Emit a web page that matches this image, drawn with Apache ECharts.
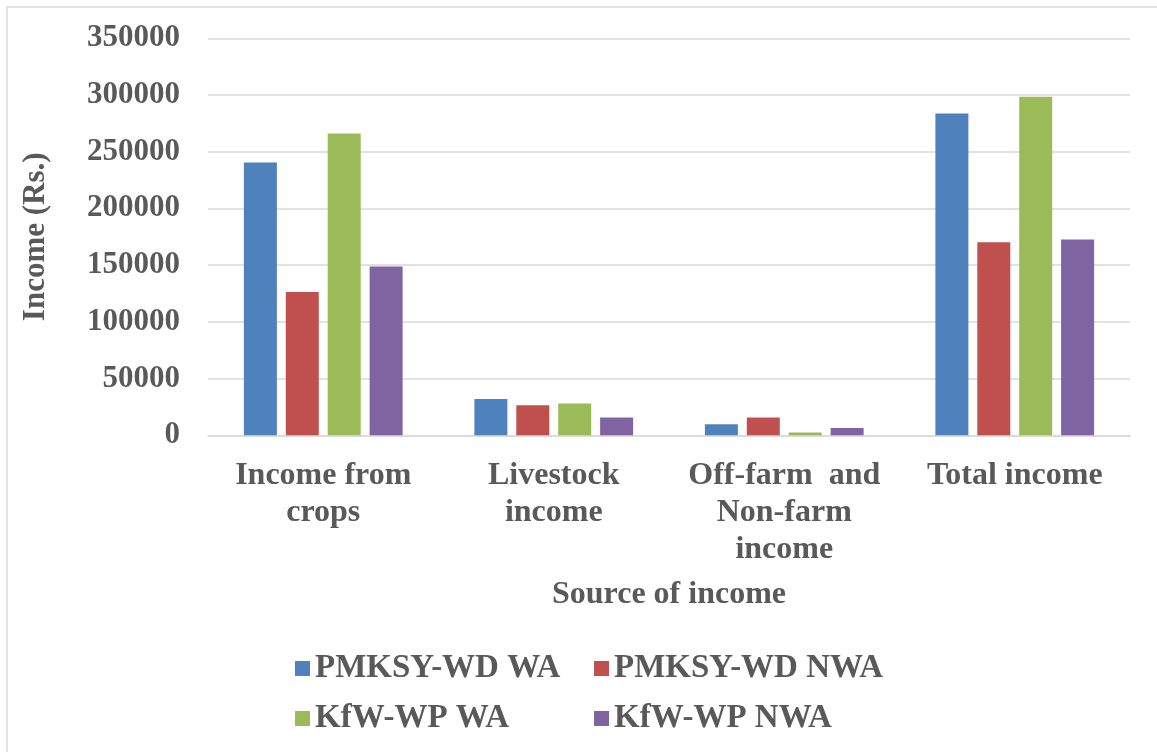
<!DOCTYPE html>
<html>
<head>
<meta charset="utf-8">
<script src="https://cdn.jsdelivr.net/npm/echarts@6/dist/echarts.min.js"></script>
<style>
  html, body { margin: 0; padding: 0; background: #fff; }
  #chart { width: 1157px; height: 752px; }
</style>
</head>
<body>
<div id="chart"></div>
<script>
const categories = ['Income from\ncrops', 'Livestock\nincome', 'Off-farm  and\nNon-farm\nincome', 'Total income']
const pmksyWA = [240500, 32000, 9700, 283700]
const pmksyNWA = [126400, 26500, 15600, 170300]
const kfwWA = [266100, 28000, 2400, 298500]
const kfwNWA = [148800, 15600, 6500, 172600]
const yTicks = [0, 50000, 100000, 150000, 200000, 250000, 300000, 350000]

const font = 'Liberation Serif'
const txt = '#595959'
const legendText = { fontFamily: font, fontWeight: 'bold', fontSize: 33, color: txt }

const chart = echarts.init(document.getElementById('chart'))
const option = {
  animation: false,
  color: ['#4F81BD', '#C0504D', '#9BBB59', '#8064A2'],
  graphic: [{
    type: 'rect',
    shape: { x: 7, y: 7, width: 1170, height: 770 },
    style: { fill: 'none', stroke: '#d9d9d9', lineWidth: 1.5 },
    silent: true
  }],
  grid: { left: 208, right: 27, top: 38.3, bottom: 316.7 },
  legend: [
    {
      orient: 'vertical', left: 295, top: 652, itemGap: 17, padding: 0,
      itemWidth: 15, itemHeight: 15, icon: 'rect',
      textStyle: legendText,
      data: ['PMKSY-WD WA', 'KfW-WP WA']
    },
    {
      orient: 'vertical', left: 594, top: 652, itemGap: 17, padding: 0,
      itemWidth: 15, itemHeight: 15, icon: 'rect',
      textStyle: legendText,
      data: ['PMKSY-WD NWA', 'KfW-WP NWA']
    }
  ],
  xAxis: {
    type: 'category',
    data: categories,
    name: 'Source of income',
    nameLocation: 'middle',
    nameGap: 143,
    nameTextStyle: { fontFamily: font, fontWeight: 'bold', fontSize: 32, color: txt },
    axisLine: { lineStyle: { color: '#d9d9d9', width: 1.5 } },
    axisTick: { show: false },
    axisLabel: {
      interval: 0, margin: 22,
      fontFamily: font, fontWeight: 'bold', fontSize: 32, lineHeight: 37, color: txt
    }
  },
  yAxis: {
    type: 'value',
    min: yTicks[0],
    max: yTicks[yTicks.length - 1],
    interval: 50000,
    name: 'Income (Rs.)',
    nameLocation: 'middle',
    nameGap: 157,
    nameTextStyle: { fontFamily: font, fontWeight: 'bold', fontSize: 31, color: txt },
    axisLine: { show: false },
    axisTick: { show: false },
    splitLine: { lineStyle: { color: '#d9d9d9', width: 1.5 } },
    axisLabel: {
      margin: 28,
      formatter: v => String(v),
      fontFamily: font, fontWeight: 'bold', fontSize: 31, color: txt
    }
  },
  series: [
    { name: 'PMKSY-WD WA', type: 'bar', data: pmksyWA, barWidth: 33, barGap: '27%' },
    { name: 'PMKSY-WD NWA', type: 'bar', data: pmksyNWA, barWidth: 33, barGap: '27%' },
    { name: 'KfW-WP WA', type: 'bar', data: kfwWA, barWidth: 33, barGap: '27%' },
    { name: 'KfW-WP NWA', type: 'bar', data: kfwNWA, barWidth: 33, barGap: '27%' }
  ]
}
chart.setOption(option)
</script>
</body>
</html>
